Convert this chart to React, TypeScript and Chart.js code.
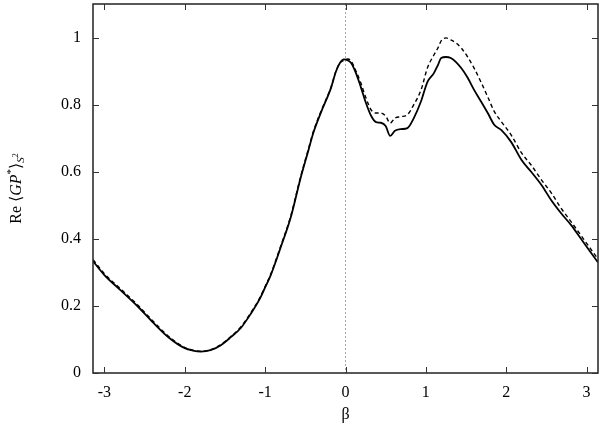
import { useEffect, useRef } from "react";
import { Chart, registerables } from "chart.js";

Chart.register(...registerables);

const betaValues = [
  -3.14, -3.0, -2.8, -2.6, -2.4, -2.2, -2.0, -1.9, -1.8, -1.68, -1.55, -1.43, -1.3, -1.18,
  -1.06, -1.0, -0.93, -0.81, -0.68, -0.56, -0.46, -0.4, -0.3, -0.18, -0.12, -0.07, -0.02,
  0.03, 0.07, 0.13, 0.19, 0.25, 0.32, 0.38, 0.44, 0.5, 0.556, 0.615, 0.69, 0.77, 0.85,
  0.94, 1.02, 1.1, 1.15, 1.19, 1.25, 1.31, 1.375, 1.44, 1.52, 1.6, 1.69, 1.77, 1.85, 1.94,
  2.06, 2.19, 2.31, 2.44, 2.56, 2.68, 2.81, 2.93, 3.05, 3.14,
];

const solidSeries = [
  0.333, 0.292, 0.247, 0.202, 0.152, 0.106, 0.074, 0.067, 0.064, 0.068, 0.083, 0.106, 0.135, 0.176,
  0.224, 0.255, 0.292, 0.372, 0.465, 0.58, 0.665, 0.716, 0.78, 0.85, 0.898, 0.924, 0.935,
  0.932, 0.924, 0.894, 0.853, 0.808, 0.766, 0.748, 0.746, 0.736, 0.707, 0.722, 0.727, 0.73, 0.76,
  0.81, 0.868, 0.894, 0.918, 0.939, 0.942, 0.939, 0.927, 0.909, 0.88, 0.844, 0.808, 0.775, 0.74, 0.724,
  0.689, 0.635, 0.6, 0.56, 0.515, 0.477, 0.44, 0.4, 0.36, 0.33,
];

const dashedSeries = [
  0.338, 0.296, 0.251, 0.206, 0.156, 0.109, 0.076, 0.068, 0.065, 0.069, 0.085, 0.108, 0.138, 0.179,
  0.227, 0.258, 0.295, 0.376, 0.469, 0.584, 0.669, 0.72, 0.783, 0.852, 0.899, 0.924, 0.932,
  0.936, 0.93, 0.9, 0.865, 0.823, 0.784, 0.775, 0.775, 0.766, 0.745, 0.76, 0.764, 0.77, 0.8,
  0.844, 0.91, 0.948, 0.969, 0.99, 0.999, 0.993, 0.984, 0.969, 0.942, 0.909, 0.865, 0.823, 0.78, 0.749,
  0.71, 0.656, 0.62, 0.575, 0.537, 0.492, 0.45, 0.41, 0.37, 0.34,
];

const xTickValues = [-3, -2, -1, 0, 1, 2, 3];
const yTickValues = [0, 0.2, 0.4, 0.6, 0.8, 1];
const xRange = [-Math.PI, Math.PI];
const yRange = [0, 1.1];

const SERIF = "'Liberation Serif', 'DejaVu Serif', serif";

const framePlugin = {
  id: "frame",
  beforeDatasetsDraw(chart: any) {
    const { ctx, chartArea: a, scales } = chart;
    const px = scales.x.getPixelForValue(0);
    ctx.save();
    ctx.strokeStyle = "#a8a8a8";
    ctx.lineWidth = 1;
    ctx.setLineDash([2, 2]);
    ctx.beginPath();
    ctx.moveTo(px, a.top);
    ctx.lineTo(px, a.bottom);
    ctx.stroke();
    ctx.restore();
  },
  afterDatasetsDraw(chart: any) {
    const { ctx, chartArea: a, scales } = chart;
    ctx.save();
    ctx.strokeStyle = "#222";
    ctx.lineWidth = 1.5;
    ctx.setLineDash([]);
    ctx.strokeRect(a.left, a.top, a.right - a.left, a.bottom - a.top);
    ctx.lineWidth = 1;
    ctx.strokeStyle = "#333";
    const tl = 6;
    ctx.beginPath();
    for (const v of xTickValues) {
      const p = Math.round(scales.x.getPixelForValue(v)) + 0.5;
      ctx.moveTo(p, a.bottom);
      ctx.lineTo(p, a.bottom - tl);
      ctx.moveTo(p, a.top);
      ctx.lineTo(p, a.top + tl);
    }
    for (const v of yTickValues) {
      const p = Math.round(scales.y.getPixelForValue(v)) + 0.5;
      ctx.moveTo(a.left, p);
      ctx.lineTo(a.left + tl, p);
      ctx.moveTo(a.right, p);
      ctx.lineTo(a.right - tl, p);
    }
    ctx.stroke();
    ctx.restore();
  },
  afterDraw(chart: any) {
    const { ctx, chartArea: a } = chart;
    ctx.save();
    ctx.fillStyle = "#000";
    ctx.font = `16px ${SERIF}`;
    ctx.textAlign = "center";
    ctx.textBaseline = "middle";
    ctx.fillText("β", (a.left + a.right) / 2, 415);

    const pieces = [
      { t: "Re ", f: `16px ${SERIF}`, dy: 0 },
      { t: "⟨", f: `16px ${SERIF}`, dy: 0 },
      { t: "GP", f: `italic 16px ${SERIF}`, dy: 0 },
      { t: "*", f: `11px ${SERIF}`, dy: -6 },
      { t: "⟩", f: `16px ${SERIF}`, dy: 0 },
      { t: "S", f: `italic 11px ${SERIF}`, dy: 4 },
      { t: "2", f: `8px ${SERIF}`, dy: -1 },
    ];
    let total = 0;
    const widths = pieces.map((p) => {
      ctx.font = p.f;
      const w = ctx.measureText(p.t).width;
      total += w;
      return w;
    });
    ctx.translate(17, (a.top + a.bottom) / 2);
    ctx.rotate(-Math.PI / 2);
    ctx.textAlign = "left";
    ctx.textBaseline = "middle";
    let x = -total / 2;
    pieces.forEach((p, i) => {
      ctx.font = p.f;
      ctx.fillText(p.t, x, p.dy);
      x += widths[i];
    });
    ctx.restore();
  },
};

export default function App() {
  const ref = useRef<HTMLCanvasElement | null>(null);
  useEffect(() => {
    document.body.style.margin = "0";
    if (!ref.current) return;
    const chart = new Chart(ref.current, {
      type: "line",
      data: {
        datasets: [
          {
            label: "solid",
            data: betaValues.map((b, i) => ({ x: b, y: solidSeries[i] })),
            borderColor: "#000",
            borderWidth: 1.8,
            pointRadius: 0,
            fill: false,
            cubicInterpolationMode: "monotone",
          },
          {
            label: "dashed",
            data: betaValues.map((b, i) => ({ x: b, y: dashedSeries[i] })),
            borderColor: "#000",
            borderWidth: 1.4,
            borderDash: [4, 3],
            pointRadius: 0,
            fill: false,
            cubicInterpolationMode: "monotone",
          },
        ],
      },
      options: {
        animation: false,
        responsive: true,
        maintainAspectRatio: false,
        layout: { padding: { left: 0, right: 2, top: 4, bottom: 0 } },
        plugins: { legend: { display: false }, tooltip: { enabled: false } },
        scales: {
          x: {
            type: "linear",
            min: xRange[0],
            max: xRange[1],
            grid: { display: false, drawTicks: false },
            border: { display: false },
            afterBuildTicks: (s: any) => {
              s.ticks = xTickValues.map((v) => ({ value: v }));
            },
            afterFit: (s: any) => {
              s.height = 59;
              s.paddingLeft = 0;
              s.paddingRight = 0;
            },
            ticks: {
              padding: 10,
              color: "#000",
              font: { family: SERIF, size: 16 },
              maxRotation: 0,
              autoSkip: false,
              callback: (v: any) => String(v),
            },
          },
          y: {
            type: "linear",
            min: yRange[0],
            max: yRange[1],
            grid: { display: false, drawTicks: false },
            border: { display: false },
            afterBuildTicks: (s: any) => {
              s.ticks = yTickValues.map((v) => ({ value: v }));
            },
            afterFit: (s: any) => {
              s.width = 93;
              s.paddingTop = 0;
              s.paddingBottom = 0;
            },
            ticks: {
              padding: 12,
              color: "#000",
              font: { family: SERIF, size: 16 },
              autoSkip: false,
              callback: (v: any) => String(Math.round(v * 10) / 10),
            },
          },
        },
      },
      plugins: [framePlugin],
    });
    return () => chart.destroy();
  }, []);
  return (
    <div style={{ width: 600, height: 432, position: "relative" }}>
      <canvas ref={ref} />
    </div>
  );
}
